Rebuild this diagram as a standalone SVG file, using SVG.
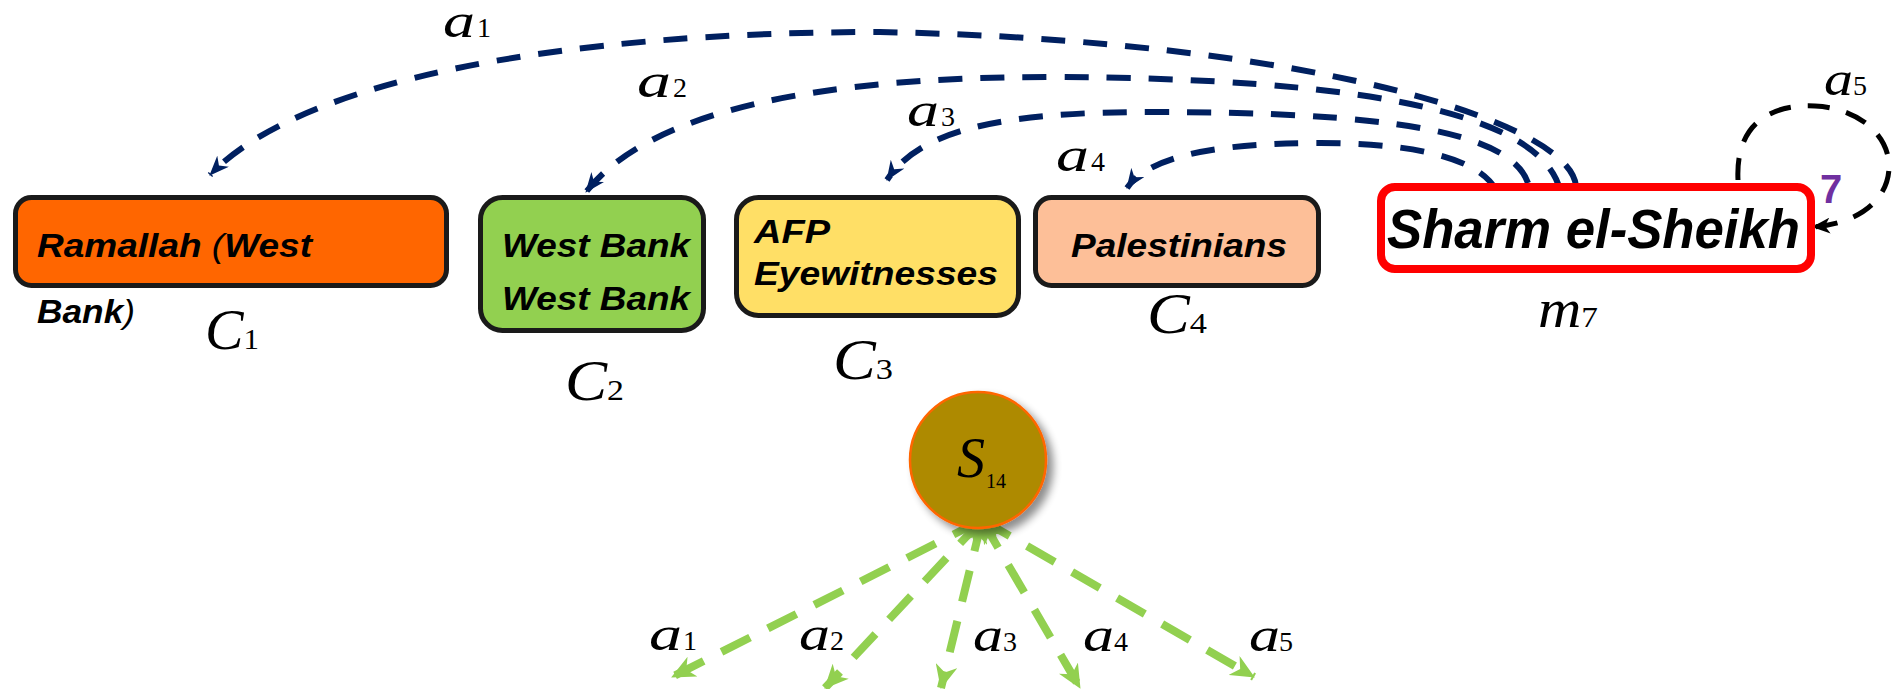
<svg xmlns="http://www.w3.org/2000/svg" width="1892" height="689" viewBox="0 0 1892 689">
<style>
.bx{font-family:"Liberation Sans",Arial,sans-serif;font-weight:bold;font-style:italic;font-size:34px;fill:#000}
.big{font-size:56px}
.mt{font-family:"Liberation Serif","Times New Roman",serif;fill:#000}
.it{font-style:italic}
.av{font-family:"Liberation Serif","Times New Roman",serif;font-style:italic;font-size:48px;fill:#000}
.sb{font-family:"Liberation Serif","Times New Roman",serif;font-size:28px;fill:#000}
.navy{fill:none;stroke:#002060;stroke-width:6;stroke-dasharray:24 18}
.grn{fill:none;stroke:#92D050;stroke-width:8;stroke-dasharray:32 20}
</style>
<defs>
<marker id="mNavy" viewBox="0 0 20 16" refX="19" refY="8" markerWidth="20" markerHeight="16" markerUnits="userSpaceOnUse" orient="auto"><path d="M0,0 L20,8 L0,16 L6,8 z" fill="#002060"/></marker>
<marker id="mBlk" viewBox="0 0 18 16" refX="17" refY="8" markerWidth="18" markerHeight="16" markerUnits="userSpaceOnUse" orient="auto"><path d="M0,0 L18,8 L0,16 L5,8 z" fill="#000"/></marker>
<marker id="mGrn" viewBox="0 0 24 22" refX="23" refY="11" markerWidth="24" markerHeight="22" markerUnits="userSpaceOnUse" orient="auto-start-reverse"><path d="M0,0 L24,11 L0,22 L7,11 z" fill="#92D050"/></marker>
<filter id="sh" x="-30%" y="-30%" width="160%" height="160%"><feGaussianBlur in="SourceAlpha" stdDeviation="4"/><feOffset dx="6" dy="6" result="b"/><feComponentTransfer><feFuncA type="linear" slope="0.45"/></feComponentTransfer><feMerge><feMergeNode/><feMergeNode in="SourceGraphic"/></feMerge></filter>
</defs>

<g id="connectors">
<path class="navy" d="M1576,186 C1570,120 1300,40 880,32 C560,32 300,80 210,175" marker-end="url(#mNavy)"/>
<path class="navy" d="M1560,190 C1540,110 1350,78 1050,77 C820,77 650,110 586,192" marker-end="url(#mNavy)"/>
<path class="navy" d="M1528,183 C1510,130 1380,112 1150,112 C1000,112 920,130 887,180" marker-end="url(#mNavy)"/>
<path class="navy" d="M1496,190 C1480,160 1420,143 1320,143 C1220,143 1150,155 1127,188" marker-end="url(#mNavy)"/>
<path d="M1738,180 C1735,118 1778,104 1815,106 C1858,108 1890,135 1889,168 C1888,198 1862,223 1813,227" fill="none" stroke="#000" stroke-width="5" stroke-dasharray="22 17" marker-end="url(#mBlk)"/>
<line class="grn" x1="982" y1="520" x2="672" y2="677" marker-start="url(#mGrn)" marker-end="url(#mGrn)"/>
<line class="grn" x1="982" y1="520" x2="825" y2="688" marker-start="url(#mGrn)" marker-end="url(#mGrn)"/>
<line class="grn" x1="982" y1="520" x2="941" y2="688" marker-start="url(#mGrn)" marker-end="url(#mGrn)"/>
<line class="grn" x1="982" y1="520" x2="1080" y2="688" marker-start="url(#mGrn)" marker-end="url(#mGrn)"/>
<line class="grn" x1="982" y1="520" x2="1254" y2="677" marker-start="url(#mGrn)" marker-end="url(#mGrn)"/>
</g>

<g id="c1">
<rect x="15.5" y="197.5" width="431" height="88" rx="16" fill="#FF6600" stroke="#1a1a1a" stroke-width="5"/>
<text class="bx" x="37" y="257" textLength="275" lengthAdjust="spacingAndGlyphs">Ramallah <tspan font-weight="normal">(</tspan>West</text>
<text class="bx" x="37" y="323" textLength="98" lengthAdjust="spacingAndGlyphs">Bank<tspan font-weight="normal">)</tspan></text>
<text class="mt" x="205" y="349" textLength="54" lengthAdjust="spacingAndGlyphs"><tspan class="it" font-size="56">C</tspan><tspan font-size="30">1</tspan></text>
</g>

<g id="c2">
<rect x="480.5" y="197.5" width="223" height="133" rx="22" fill="#92D050" stroke="#1a1a1a" stroke-width="5"/>
<text class="bx" x="502" y="257" textLength="188" lengthAdjust="spacingAndGlyphs">West Bank</text>
<text class="bx" x="502" y="310" textLength="188" lengthAdjust="spacingAndGlyphs">West Bank</text>
<text class="mt" x="565" y="400" textLength="59" lengthAdjust="spacingAndGlyphs"><tspan class="it" font-size="56">C</tspan><tspan font-size="30">2</tspan></text>
</g>

<g id="c3">
<rect x="736.5" y="197.5" width="282" height="118" rx="22" fill="#FFDF66" stroke="#1a1a1a" stroke-width="5"/>
<text class="bx" x="754" y="243" textLength="76" lengthAdjust="spacingAndGlyphs">AFP</text>
<text class="bx" x="754" y="285" textLength="244" lengthAdjust="spacingAndGlyphs">Eyewitnesses</text>
<text class="mt" x="833" y="379" textLength="60" lengthAdjust="spacingAndGlyphs"><tspan class="it" font-size="56">C</tspan><tspan font-size="30">3</tspan></text>
</g>

<g id="c4">
<rect x="1035.5" y="197.5" width="283" height="88" rx="16" fill="#FDBF98" stroke="#1a1a1a" stroke-width="5"/>
<text class="bx" x="1071" y="257" textLength="216" lengthAdjust="spacingAndGlyphs">Palestinians</text>
<text class="mt" x="1147" y="333" textLength="60" lengthAdjust="spacingAndGlyphs"><tspan class="it" font-size="56">C</tspan><tspan font-size="30">4</tspan></text>
</g>

<g id="m7">
<rect x="1381" y="187" width="430" height="82" rx="14" fill="#fff" stroke="#FF0000" stroke-width="8"/>
<text class="bx big" x="1387" y="248" textLength="413" lengthAdjust="spacingAndGlyphs">Sharm el-Sheikh</text>
<text class="mt" x="1538" y="327" textLength="60" lengthAdjust="spacingAndGlyphs"><tspan class="it" font-size="54">m</tspan><tspan font-size="30">7</tspan></text>
<text x="1820" y="203" font-family="Liberation Sans, Arial, sans-serif" font-weight="bold" font-size="40" fill="#7030A0">7</text>
</g>

<g id="s14">
<circle cx="978" cy="460" r="68" fill="#AE8A00" stroke="#FF6600" stroke-width="2.5" filter="url(#sh)"/>
<text class="mt it" x="957" y="477" font-size="56">S</text>
<text class="mt" x="986" y="488" font-size="20">14</text>
</g>

<g id="labels">
<g><text class="av" x="443" y="37" textLength="32" lengthAdjust="spacingAndGlyphs">a</text><text class="sb" x="477" y="37">1</text></g>
<g><text class="av" x="637" y="97" textLength="34" lengthAdjust="spacingAndGlyphs">a</text><text class="sb" x="673" y="97">2</text></g>
<g><text class="av" x="907" y="126" textLength="32" lengthAdjust="spacingAndGlyphs">a</text><text class="sb" x="941" y="126">3</text></g>
<g><text class="av" x="1056" y="171" textLength="33" lengthAdjust="spacingAndGlyphs">a</text><text class="sb" x="1091" y="171">4</text></g>
<g><text class="av" x="1824" y="95" textLength="29" lengthAdjust="spacingAndGlyphs">a</text><text class="sb" x="1853" y="95">5</text></g>
<g><text class="av" x="649" y="650" textLength="33" lengthAdjust="spacingAndGlyphs">a</text><text class="sb" x="683" y="650">1</text></g>
<g><text class="av" x="799" y="650" textLength="31" lengthAdjust="spacingAndGlyphs">a</text><text class="sb" x="830" y="650">2</text></g>
<g><text class="av" x="973" y="651" textLength="30" lengthAdjust="spacingAndGlyphs">a</text><text class="sb" x="1003" y="651">3</text></g>
<g><text class="av" x="1083" y="651" textLength="31" lengthAdjust="spacingAndGlyphs">a</text><text class="sb" x="1114" y="651">4</text></g>
<g><text class="av" x="1249" y="651" textLength="31" lengthAdjust="spacingAndGlyphs">a</text><text class="sb" x="1279" y="651">5</text></g>
</g>
</svg>
